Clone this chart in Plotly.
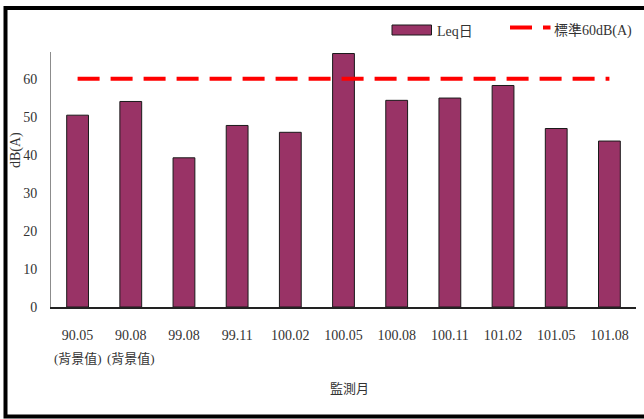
import plotly.graph_objects as go

# Monitoring periods and daytime Leq values (dB(A))
months = ["90.05", "90.08", "99.08", "99.11", "100.02", "100.05",
          "100.08", "100.11", "101.02", "101.05", "101.08"]
leq_day = [50.4, 54.0, 39.2, 47.7, 45.9, 66.6, 54.3, 54.9, 58.2, 46.9, 43.6]
standard_db = 60
background_months = ["90.05", "90.08"]
background_note = "(背景值)"
y_ticks = [0, 10, 20, 30, 40, 50, 60]

W, H = 644, 419
ML, MR, MT, MB = 51, 8, 52, 112
PW, PH = W - ML - MR, H - MT - MB

SERIF = "Liberation Serif, Noto Sans CJK TC, serif"
TXT = "#333333"
BAR = "#993366"


def px_x(x):
    return (x - ML) / PW


def px_y(y):
    return (H - MB - y) / PH


fig = go.Figure()

fig.add_trace(go.Bar(
    x=months, y=leq_day, name="Leq日", width=0.41,
    marker=dict(color=BAR, line=dict(color="#1a1a1a", width=1)),
    showlegend=False,
))

fig.add_trace(go.Scatter(
    x=months, y=[standard_db] * len(months), mode="lines",
    name="標準60dB(A)",
    line=dict(color="#ff0000", width=4, dash="22px,11px"),
    showlegend=False,
))

shapes = [
    # outer frame
    dict(type="rect", xref="paper", yref="paper",
         x0=px_x(5.5), x1=px_x(660), y0=px_y(416.5), y1=px_y(8),
         line=dict(color="black", width=4), fillcolor="rgba(0,0,0,0)"),
    # legend swatches
    dict(type="rect", xref="paper", yref="paper",
         x0=px_x(392), x1=px_x(431.5), y0=px_y(35), y1=px_y(25),
         line=dict(color="#1a1a1a", width=1), fillcolor=BAR),
    dict(type="line", xref="paper", yref="paper",
         x0=px_x(510), x1=px_x(532), y0=px_y(27.5), y1=px_y(27.5),
         line=dict(color="#ff0000", width=4)),
    dict(type="line", xref="paper", yref="paper",
         x0=px_x(543), x1=px_x(550.5), y0=px_y(27.5), y1=px_y(27.5),
         line=dict(color="#ff0000", width=4)),
]

annotations = [
    dict(text="Leq日", xref="paper", yref="paper", x=px_x(435), y=px_y(31),
         xanchor="left", yanchor="middle", showarrow=False,
         font=dict(family=SERIF, size=14, color=TXT)),
    dict(text="標準60dB(A)", xref="paper", yref="paper", x=px_x(552), y=px_y(31),
         xanchor="left", yanchor="middle", showarrow=False,
         font=dict(family=SERIF, size=14, color=TXT)),
    dict(text="dB(A)", xref="paper", yref="paper", x=px_x(16), y=px_y(150),
         xanchor="center", yanchor="middle", showarrow=False, textangle=-90,
         font=dict(family=SERIF, size=14, color=TXT)),
    dict(text="監測月", xref="paper", yref="paper", x=px_x(349), y=px_y(388),
         xanchor="center", yanchor="middle", showarrow=False,
         font=dict(family=SERIF, size=13, color=TXT)),
]
# background-value note under the first two periods (category index on x)
for m in background_months:
    annotations.append(dict(
        text=background_note, xref="x", yref="paper", x=months.index(m),
        y=px_y(358), xanchor="center", yanchor="middle", showarrow=False,
        font=dict(family=SERIF, size=13, color=TXT)))

fig.update_layout(
    width=W, height=H,
    margin=dict(l=ML, r=MR, t=MT, b=MB, pad=0),
    paper_bgcolor="white", plot_bgcolor="white",
    bargap=0.59,
    shapes=shapes, annotations=annotations,
    xaxis=dict(
        type="category", range=[-0.5, len(months) - 0.5],
        showline=True, linecolor="#222222", linewidth=1.5,
        showgrid=False, ticks="", ticklabelstandoff=14,
        tickfont=dict(family=SERIF, size=14, color=TXT),
    ),
    yaxis=dict(
        range=[0, 67], tickvals=y_ticks,
        showline=True, linecolor="#8c8c8c", linewidth=1,
        showgrid=False, zeroline=False, ticks="", ticklabelstandoff=10,
        tickfont=dict(family=SERIF, size=14, color=TXT),
    ),
)

fig.write_html("out.html")
